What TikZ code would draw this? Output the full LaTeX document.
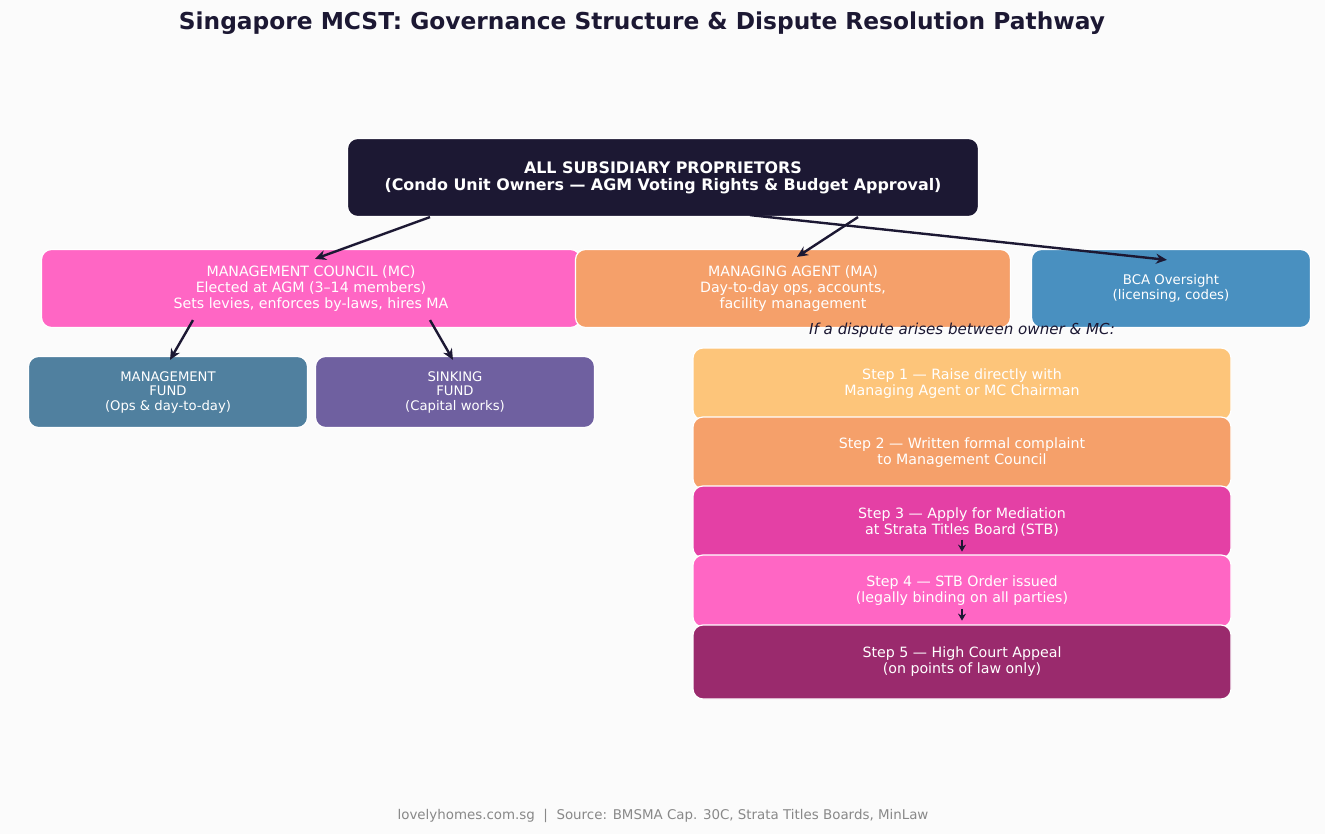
\documentclass[tikz,border=0pt]{standalone}
\usepackage{fontspec}
\setmainfont{DejaVu Sans}
\usetikzlibrary{arrows.meta}
\definecolor{bgc}{HTML}{FBFBFB}
\definecolor{navy}{HTML}{1C1833}
\definecolor{pinkc}{HTML}{FF66C4}
\definecolor{sandc}{HTML}{F5A06A}
\definecolor{bluec}{HTML}{4990C0}
\definecolor{steelc}{HTML}{50809F}
\definecolor{purpc}{HTML}{6F60A0}
\definecolor{yelc}{HTML}{FDC57A}
\definecolor{magc}{HTML}{E440A5}
\definecolor{plumc}{HTML}{9A2A6D}
\definecolor{greyc}{HTML}{888888}
\tikzset{
  box/.style={rounded corners=10pt, draw=white, line width=1.2pt, text=white, align=center, inner sep=0pt},
  stepbox/.style={box, minimum width=538pt, minimum height=72pt, font=\fontsize{14.2}{16}\selectfont},
  arr/.style={draw=navy, line width=2.4pt, -{Stealth[length=11pt,width=10pt]}},
  sarr/.style={draw=navy, line width=2.4pt, -{Stealth[length=7pt,width=8pt]}}
}
\begin{document}
\begin{tikzpicture}[x=1pt,y=-1pt]
\fill[bgc] (0,0) rectangle (1325,834);
\useasboundingbox (0,0) rectangle (1325,834);
\node[text=navy, font=\fontsize{23.3}{27}\selectfont\bfseries] (title) at (642,23) {Singapore MCST: Governance Structure \& Dispute Resolution Pathway};

\node[box, fill=navy, minimum width=631pt, minimum height=78pt, font=\fontsize{15.9}{17}\selectfont\bfseries] (top) at (663,177.5) {ALL SUBSIDIARY PROPRIETORS\\(Condo Unit Owners — AGM Voting Rights \& Budget Approval)};

\node[box, fill=pinkc, minimum width=539pt, minimum height=78pt, font=\fontsize{14.2}{16}\selectfont] (mc) at (311,288.5) {MANAGEMENT COUNCIL (MC)\\Elected at AGM (3–14 members)\\Sets levies, enforces by-laws, hires MA};
\node[box, fill=sandc, minimum width=435pt, minimum height=78pt, font=\fontsize{14.2}{16}\selectfont] (ma) at (793,288.5) {MANAGING AGENT (MA)\\Day-to-day ops, accounts,\\facility management};
\node[box, fill=bluec, minimum width=279pt, minimum height=78pt, font=\fontsize{13.3}{15}\selectfont] (bca) at (1171,288.5) {BCA Oversight\\(licensing, codes)};

\node[box, fill=steelc, minimum width=279pt, minimum height=71pt, font=\fontsize{13.2}{14.5}\selectfont] (mf) at (168,392) {MANAGEMENT\\FUND\\(Ops \& day-to-day)};
\node[box, fill=purpc, minimum width=279pt, minimum height=71pt, font=\fontsize{13.2}{14.5}\selectfont] (sf) at (455,392) {SINKING\\FUND\\(Capital works)};

\node[text=navy, font=\fontsize{15.1}{17}\selectfont\itshape] (disp) at (962,330) {If a dispute arises between owner \& MC:};

\node[stepbox, fill=yelc] (s1) at (962,384) {Step 1 — Raise directly with\\Managing Agent or MC Chairman};
\node[stepbox, fill=sandc] (s2) at (962,453) {Step 2 — Written formal complaint\\to Management Council};
\node[stepbox, fill=magc] (s3) at (962,522) {Step 3 — Apply for Mediation\\at Strata Titles Board (STB)};
\node[stepbox, fill=pinkc] (s4) at (962,591) {Step 4 — STB Order issued\\(legally binding on all parties)};
\node[stepbox, fill=plumc, minimum height=74pt] (s5) at (962,662) {Step 5 — High Court Appeal\\(on points of law only)};

\draw[arr] ([xshift=-233pt]top.south) -- ([xshift=4pt,yshift=-10pt]mc.north);
\draw[arr] ([xshift=195pt]top.south) -- ([xshift=4pt,yshift=-8pt]ma.north);
\draw[arr] ([xshift=87pt,yshift=2pt]top.south) -- ([xshift=-4pt,yshift=-11pt]bca.north);
\draw[arr] ([xshift=-118pt,yshift=8pt]mc.south) -- ([xshift=2pt,yshift=-4pt]mf.north);
\draw[arr] ([xshift=119pt,yshift=8pt]mc.south) -- ([xshift=-2pt,yshift=-4pt]sf.north);

\draw[sarr] ([yshift=19pt]s3.south) -- ([yshift=7pt]s3.south);
\draw[sarr] ([yshift=19pt]s4.south) -- ([yshift=7pt]s4.south);

\node[text=greyc, font=\fontsize{13.4}{15}\selectfont] (foot) at (663,816) {lovelyhomes.com.sg \ |\ \ Source: BMSMA Cap. 30C, Strata Titles Boards, MinLaw};
\end{tikzpicture}
\end{document}
